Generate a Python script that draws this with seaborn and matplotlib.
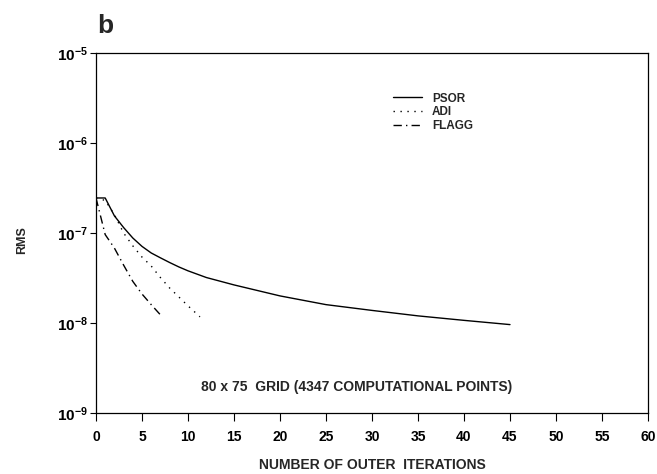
import matplotlib
matplotlib.use("Agg")
import matplotlib.pyplot as plt
import matplotlib.ticker as mticker
import numpy as np
import pandas as pd
import seaborn as sns

# ---- data ----
psor_iter = [0, 1, 2, 3, 4, 5, 6, 7, 8, 9, 10, 12, 15, 20, 25, 30, 35, 40, 45]
psor_rms = [2.45e-7, 2.45e-7, 1.55e-7, 1.15e-7, 8.8e-8, 7.1e-8, 6.0e-8, 5.3e-8,
            4.7e-8, 4.2e-8, 3.8e-8, 3.2e-8, 2.65e-8, 2.0e-8, 1.6e-8, 1.38e-8,
            1.2e-8, 1.07e-8, 9.6e-9]

adi_iter = [0, 1, 2, 3, 4, 5, 6, 7, 8, 9, 10, 11, 11.3]
adi_rms = [2.45e-7, 2.3e-7, 1.6e-7, 1.0e-7, 7.2e-8, 5.4e-8, 4.3e-8, 3.2e-8,
           2.45e-8, 1.95e-8, 1.55e-8, 1.25e-8, 1.17e-8]

flagg_iter = [0, 1, 2, 3, 4, 5, 6, 7.2]
flagg_rms = [2.45e-7, 9.6e-8, 6.8e-8, 4.4e-8, 2.9e-8, 2.1e-8, 1.6e-8, 1.17e-8]

methods = ["PSOR", "ADI", "FLAGG"]
x_ticks = list(range(0, 65, 5))
y_ticks = [1e-9, 1e-8, 1e-7, 1e-6, 1e-5]
annotation = "80 x 75  GRID (4347 COMPUTATIONAL POINTS)"
x_label = "NUMBER OF OUTER  ITERATIONS"
y_label = "RMS"
panel = "b"

df = pd.concat([
    pd.DataFrame({"iter": psor_iter, "rms": psor_rms, "method": "PSOR"}),
    pd.DataFrame({"iter": adi_iter, "rms": adi_rms, "method": "ADI"}),
    pd.DataFrame({"iter": flagg_iter, "rms": flagg_rms, "method": "FLAGG"}),
], ignore_index=True)

sns.set_style("ticks")
plt.rcParams["font.family"] = ["Liberation Sans", "DejaVu Sans"]
plt.rcParams["font.weight"] = "bold"
plt.rcParams["mathtext.fontset"] = "custom"
plt.rcParams["mathtext.rm"] = "Liberation Sans:bold"
plt.rcParams["mathtext.it"] = "Liberation Sans:bold"
plt.rcParams["mathtext.bf"] = "Liberation Sans:bold"

fig = plt.figure(figsize=(6.57, 4.74), dpi=100)
ax = fig.add_axes([96 / 657, 1 - 413 / 474, 552 / 657, 360 / 474])

sns.lineplot(data=df, x="iter", y="rms", hue="method", style="method",
             hue_order=methods, style_order=methods,
             palette={"PSOR": "black", "ADI": "black", "FLAGG": "black"},
             dashes={"PSOR": "", "ADI": (1, 4), "FLAGG": (6, 3, 1, 3)},
             linewidth=1.0, ax=ax, sort=False, estimator=None)

ax.set_yscale("log")
ax.set_xlim(0, 60)
ax.set_ylim(1e-9, 1e-5)
ax.set_xticks(x_ticks)
ax.set_xticklabels([str(t) for t in x_ticks])
ax.yaxis.set_major_locator(mticker.FixedLocator(y_ticks))
ax.yaxis.set_minor_locator(mticker.NullLocator())
ax.yaxis.set_major_formatter(mticker.FuncFormatter(
    lambda v, p: r"$10^{%d}$" % int(round(np.log10(v)))))
ax.set_xlabel("")
ax.set_ylabel("")

for s in ax.spines.values():
    s.set_visible(True)
    s.set_linewidth(0.9)
    s.set_color("black")

ax.tick_params(axis="x", direction="out", length=6, width=0.8, labelsize=10,
               pad=6, colors="black")
ax.tick_params(axis="y", direction="out", length=4, width=0.8, labelsize=11,
               pad=2, colors="black")
for lab in ax.get_xticklabels() + ax.get_yticklabels():
    lab.set_fontweight("bold")

handles, labels = ax.get_legend_handles_labels()
leg = ax.legend(handles, labels, loc="upper left",
                bbox_to_anchor=(0.538, 0.89), frameon=False,
                fontsize=8.5, handlelength=2.5, handletextpad=0.8,
                labelspacing=0.15, borderpad=0, borderaxespad=0)
for t in leg.get_texts():
    t.set_fontweight("bold")

ax.text(11.4, 1.94e-9, annotation, ha="left", va="center",
        fontsize=10, fontweight="bold")

fig.text(22 / 657, 1 - 240 / 474, y_label, rotation=90, ha="center",
         va="center", fontsize=9, fontweight="bold")
fig.text(372 / 657, 1 - 465 / 474, x_label, ha="center", va="center",
         fontsize=10, fontweight="bold")
fig.text(97 / 657, 1 - 33 / 474, panel, ha="left", va="baseline",
         fontsize=19, fontweight="bold")

fig.savefig("out.png", dpi=100)
